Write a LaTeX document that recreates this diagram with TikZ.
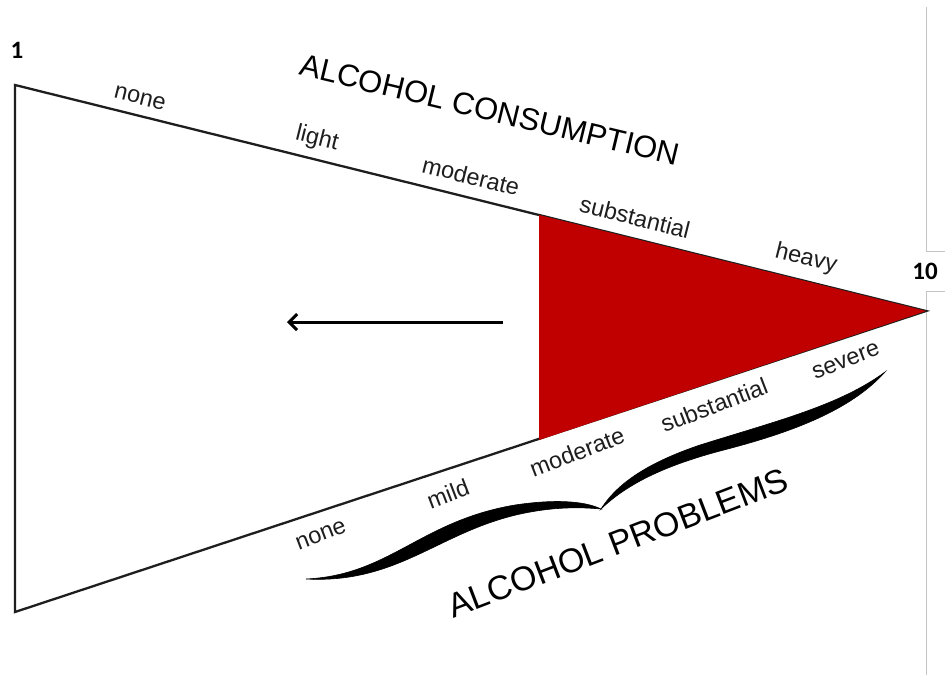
\documentclass[tikz,border=0pt]{standalone}
\usepackage{fontspec}
\setmainfont{Liberation Sans}
\newfontfamily\numfont{Carlito}
\usetikzlibrary{arrows.meta}
\definecolor{redfill}{HTML}{C00000}
\definecolor{inkc}{HTML}{1E1E1E}
\definecolor{guide}{HTML}{C4C4C4}
\tikzset{
  lbl/.style={inner sep=0pt, text=inkc, font=\fontsize{23.5}{28}\selectfont},
  ttl/.style={inner sep=0pt, text=black},
  num/.style={inner sep=0pt, text=black, font=\numfont\bfseries\fontsize{25}{30}\selectfont},
  edge/.style={draw=inkc, line width=2.3pt, line join=miter},
  guideline/.style={draw=guide, line width=1pt},
  bracefill/.style={fill=black, draw=black, line width=0.6pt}
}
\begin{document}
\begin{tikzpicture}[x=1pt,y=-1pt]
\useasboundingbox[fill=white] (0,0) rectangle (945,675);
% vertices
\coordinate (tl) at (15,85);
\coordinate (bl) at (15,612);
\coordinate (apex) at (926,311);
\coordinate (rt) at (539,215);
\coordinate (rb) at (539,440);
% faint guide lines at right
\coordinate (g1) at (926,7);
\coordinate (g2) at (926,251);
\coordinate (g3) at (945,251);
\coordinate (g4) at (945,291);
\coordinate (g5) at (926,291);
\coordinate (g6) at (926,675);
\draw[guideline] (g1) -- (g2) -- (g3);
\draw[guideline] (g4) -- (g5) -- (g6);
% triangle
\draw[edge] (tl) -- (apex) -- (bl) -- cycle;
\fill[redfill] (rt) -- (apex) -- (rb) -- cycle;
% arrow
\coordinate (arrS) at (503,322);
\coordinate (arrE) at (287,322);
\draw[line width=3pt, -{Straight Barb[length=8pt,width=16pt]}] (arrS) -- (arrE);
% numbers
\node[num] (n1) at (17,50) {1};
\node[num] (n10) at (925,271) {10};
% titles
\node[ttl, rotate=-13.5, font=\fontsize{31}{36}\selectfont] (tcons) at (490,110) {ALCOHOL CONSUMPTION};
\node[ttl, rotate=21, font=\fontsize{34}{40}\selectfont] (tprob) at (618,543) {ALCOHOL PROBLEMS};
% top labels
\node[lbl, rotate=-14] (c1) at (140,98) {none};
\node[lbl, rotate=-14] (c2) at (317,139) {light};
\node[lbl, rotate=-14] (c3) at (471,176) {moderate};
\node[lbl, rotate=-14] (c4) at (635,217) {substantial};
\node[lbl, rotate=-14] (c5) at (806,259) {heavy};
% bottom labels
\node[lbl, rotate=21] (p1) at (321,535) {none};
\node[lbl, rotate=21] (p2) at (448,494) {mild};
\node[lbl, rotate=21] (p3) at (577,452) {moderate};
\node[lbl, rotate=21] (p4) at (714,405) {substantial};
\node[lbl, rotate=21] (p5) at (846,361) {severe};
% brace
\coordinate (bT) at (306,579);
\coordinate (bC) at (601,509);
\coordinate (bR) at (885,372);
\path[bracefill] (bT) .. controls (390,575) and (420,521) .. (515,505)
   .. controls (555,499) and (585,501) .. (bC)
   .. controls (580,507) and (555,507) .. (525,513)
   .. controls (440,530) and (400,584) .. (bT) -- cycle;
\path[bracefill] (bC) .. controls (618,482) and (650,462) .. (700,445)
   .. controls (780,420) and (840,405) .. (bR)
   .. controls (850,411) and (790,433) .. (720,451)
   .. controls (660,467) and (625,486) .. (bC) -- cycle;
\end{tikzpicture}
\end{document}
